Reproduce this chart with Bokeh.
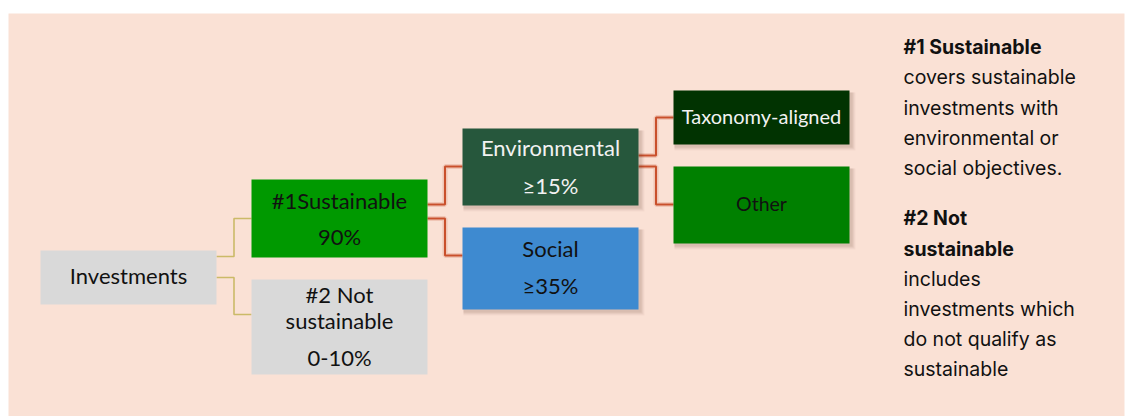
from bokeh.plotting import figure
from bokeh.models import Range1d
from bokeh.core.properties import value
from bokeh.embed import file_html
from bokeh.resources import INLINE

# ---------------- data ----------------
node_labels = [["Investments"], ["#1Sustainable"], ["#2 Not", "sustainable"],
               ["Environmental"], ["Social"], ["Taxonomy-aligned"], ["Other"]]
node_shares = [None, "90%", "0-10%", "≥15%", "≥35%", None, None]
node_parent = [None, 0, 0, 1, 1, 3, 3]

note_lines = ["#1 Sustainable", "covers sustainable", "investments with",
              "environmental or", "social objectives.",
              "#2 Not", "sustainable", "includes", "investments which",
              "do not qualify as", "sustainable"]
note_bold = [True, False, False, False, False, True, True, False, False, False, False]

# ---------------- layout / style ----------------
box_left = [40, 251, 251, 462, 462, 673, 673]
box_right = [216, 427, 427, 638, 638, 849, 849]
box_top = [250, 179, 279, 128, 227, 90, 166]
box_bottom = [304, 257, 374, 205, 309, 144, 243]
box_fill = ["#D9D9D9", "#009900", "#D9D9D9", "#26573C", "#3E8AD0", "#013301", "#008000"]
box_text_color = ["#111111", "#111111", "#111111", "#F2F2F2", "#111111", "#F2F2F2", "#111111"]
box_font_size = ["22px", "22px", "22px", "22px", "22px", "20px", "19.5px"]
box_shadow = [False, False, False, True, True, True, True]
line_baselines = [[283], [208, 244], [302, 328, 365], [155, 192.7], [256, 292.7], [123], [210.7]]
conn_src_y = [None, 256, 277, 204, 218, 155, 166]
conn_tgt_y = [None, 218, 314, 166, 255, 117, 204]

note_x = 903
note_baselines = [54, 84.5, 115, 145, 175, 225, 256.5, 286.5, 316.5, 346.5, 376.5]
TEXT_SHIFT = -8

PEACH = "#FAE1D5"

p = figure(width=1126, height=416, output_backend="svg", toolbar_location=None,
           x_range=Range1d(8, 1124), y_range=Range1d(416, 13),
           min_border_left=8, min_border_right=2, min_border_top=13, min_border_bottom=0,
           background_fill_color=PEACH, border_fill_color="white")
p.axis.visible = False
p.grid.visible = False
p.outline_line_color = None

# connectors
for i, par in enumerate(node_parent):
    if par is None:
        continue
    xm = (box_right[par] + box_left[i]) / 2
    xs = [box_right[par], xm, xm, box_left[i]]
    ys = [conn_src_y[i], conn_src_y[i], conn_tgt_y[i], conn_tgt_y[i]]
    if par == 0:
        p.line(xs, ys, line_color="#CBBA68", line_width=1.6)
    else:
        p.line(xs, ys, line_color="#C0502C", line_width=5, line_alpha=0.18)
        p.line(xs, ys, line_color="#C9502C", line_width=2)

# shadows
for i in range(len(node_labels)):
    if not box_shadow[i]:
        continue
    for k, a in [(6, 0.04), (5, 0.05), (4, 0.06), (3, 0.07)]:
        p.quad(left=box_left[i] + 1, right=box_right[i] + k,
               top=box_top[i] + 2, bottom=box_bottom[i] + k,
               fill_color="#5A3A2A", fill_alpha=a, line_color=None)

# boxes
p.quad(left=box_left, right=box_right, top=box_top, bottom=box_bottom,
       fill_color=box_fill, line_color=None)

# box texts
for i in range(len(node_labels)):
    lines = list(node_labels[i]) + ([node_shares[i]] if node_shares[i] else [])
    cx = (box_left[i] + box_right[i]) / 2
    p.text(x=[cx] * len(lines), y=line_baselines[i], text=lines,
           text_align="center", text_baseline="alphabetic", y_offset=TEXT_SHIFT,
           text_font=value("Lato"), text_font_size=box_font_size[i],
           text_color=box_text_color[i])

# notes
for style in (True, False):
    idx = [j for j, b in enumerate(note_bold) if b == style]
    p.text(x=[note_x] * len(idx), y=[note_baselines[j] for j in idx],
           text=[note_lines[j] for j in idx],
           text_align="left", text_baseline="alphabetic", y_offset=TEXT_SHIFT,
           text_font=value("Inter"), text_font_size="19.5px",
           text_font_style="bold" if style else "normal",
           text_color="#111111")

open("out.html", "w").write(file_html(p, INLINE))
